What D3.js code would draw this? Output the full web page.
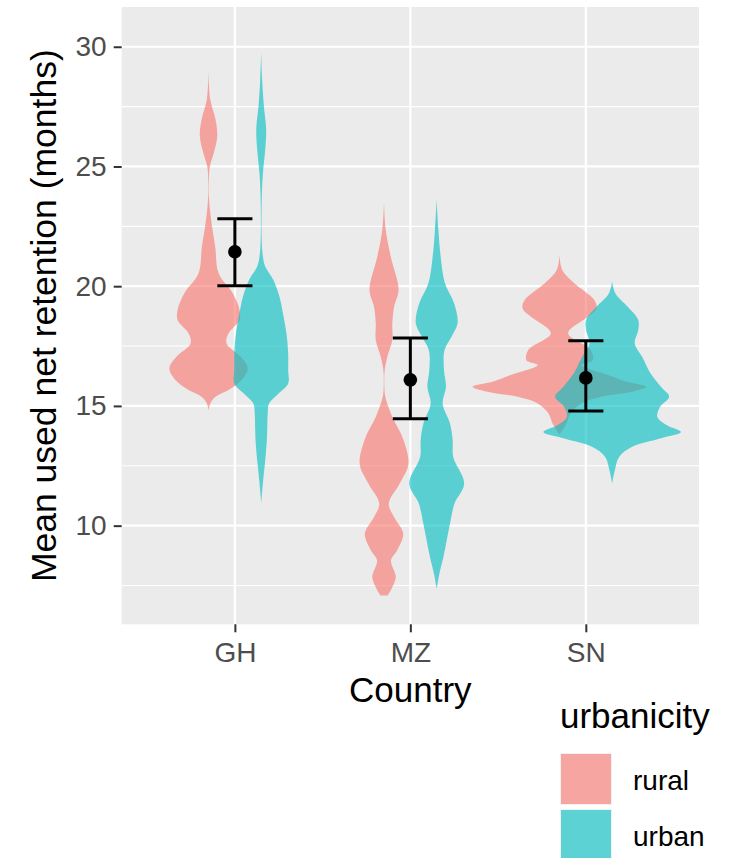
<!DOCTYPE html>
<html>
<head>
<meta charset="utf-8">
<script src="https://cdn.jsdelivr.net/npm/d3@7"></script>
<style>
  body { margin: 0; background: #fff; }
  svg { display: block; font-family: "Liberation Sans", Arial, Helvetica, sans-serif; }
</style>
</head>
<body>
<svg></svg>
<script>
// values
const countries = ['GH', 'MZ', 'SN'];
const groups = ['rural', 'urban'];
const groupColors = ['#F8766D', '#00BFC4'];
const yTicks = [10, 15, 20, 25, 30];
const yMinorTicks = [7.5, 12.5, 17.5, 22.5, 27.5];

// mean and interval per country
const meanRetention = [21.44, 16.09, 16.17];
const ciLower = [20.02, 14.46, 14.79];
const ciUpper = [22.82, 17.84, 17.72];

// violin outlines: [retention (months), relative density]
const ghRural = [
  [28.98, 0], [27.79, 0.02], [26.96, 0.08], [26.26, 0.1], [25.56, 0.06], [25.0, 0.015],
  [24.45, 0.004], [23.75, 0.004], [23.05, 0.02], [22.35, 0.046], [21.65, 0.077], [20.54, 0.115],
  [19.7, 0.28], [19.01, 0.356], [18.59, 0.356], [18.03, 0.23], [17.61, 0.207], [17.05, 0.37],
  [16.57, 0.45], [16.08, 0.38], [15.66, 0.23], [15.38, 0.08], [15.1, 0.02], [14.82, 0]
];
const ghUrban = [
  [29.75, 0], [28.63, 0.011], [27.51, 0.031], [26.54, 0.057], [25.7, 0.046], [24.73, 0.02],
  [23.89, 0.008], [23.05, 0.004], [22.22, 0.004], [21.38, 0.015], [20.82, 0.046], [20.26, 0.14],
  [19.56, 0.21], [18.87, 0.25], [18.03, 0.29], [17.19, 0.31], [16.5, 0.31], [15.94, 0.31],
  [15.52, 0.2], [15.1, 0.09], [14.68, 0.075], [14.12, 0.07], [13.57, 0.065], [12.87, 0.05],
  [12.17, 0.03], [11.48, 0.012], [10.92, 0]
];
const mzRural = [
  [23.47, 0], [22.35, 0.02], [21.24, 0.077], [19.84, 0.167], [19.14, 0.115], [18.45, 0.095],
  [17.75, 0.095], [17.05, 0.038], [16.5, 0.008], [15.94, 0.003], [15.38, 0.015], [14.54, 0.095],
  [13.71, 0.21], [12.59, 0.28], [11.76, 0.18], [10.92, 0.055], [10.36, 0.115], [9.66, 0.22],
  [8.96, 0.15], [8.55, 0.08], [7.86, 0.135], [7.4, 0.09], [7.08, 0.04]
];
const mzUrban = [
  [23.61, 0], [22.35, 0.02], [21.24, 0.046], [20.12, 0.095], [19.29, 0.2], [18.45, 0.24],
  [17.89, 0.17], [17.33, 0.09], [16.5, 0.084], [15.8, 0.107], [15.1, 0.069], [14.27, 0.153],
  [13.57, 0.184], [12.87, 0.19], [11.76, 0.316], [10.92, 0.205], [10.08, 0.153], [9.38, 0.115],
  [8.68, 0.077], [7.99, 0.031], [7.36, 0]
];
const snRural = [
  [21.31, 0], [20.68, 0.031], [20.12, 0.17], [19.42, 0.4], [19.08, 0.425], [18.73, 0.33],
  [18.03, 0.1], [17.33, 0.36], [16.91, 0.38], [16.71, 0.25], [16.29, 0.56], [16.01, 0.77],
  [15.8, 1.0], [15.59, 0.83], [15.38, 0.48], [15.1, 0.25], [14.68, 0.126], [14.27, 0.08],
  [13.91, 0.02], [13.8, 0]
];
const snUrban = [
  [20.19, 0], [19.7, 0.038], [19.14, 0.18], [18.59, 0.3], [18.17, 0.3], [17.61, 0.26],
  [17.05, 0.345], [16.36, 0.44], [15.8, 0.56], [15.38, 0.655], [14.96, 0.55], [14.54, 0.52],
  [14.19, 0.63], [13.91, 0.79], [13.64, 0.55], [13.29, 0.23], [12.87, 0.08], [12.31, 0.031],
  [11.76, 0]
];

const violins = [
  { country: 'GH', group: 'rural', profile: ghRural },
  { country: 'GH', group: 'urban', profile: ghUrban },
  { country: 'MZ', group: 'rural', profile: mzRural },
  { country: 'MZ', group: 'urban', profile: mzUrban },
  { country: 'SN', group: 'rural', profile: snRural },
  { country: 'SN', group: 'urban', profile: snUrban }
];

const width = 738, height = 858;
const margin = { top: 7, right: 39, bottom: 233.7, left: 121.7 };
const panelW = width - margin.left - margin.right;
const panelH = height - margin.top - margin.bottom;

const svg = d3.select('svg')
  .attr('width', width)
  .attr('height', height);

const g = svg.append('g')
  .attr('transform', `translate(${margin.left},${margin.top})`);

// scales
const x = d3.scalePoint().domain(countries).range([0, panelW]).padding(0.645);
const y = d3.scaleLinear().domain([5.88, 31.66]).range([panelH, 0]);
const color = d3.scaleOrdinal().domain(groups).range(groupColors);
const dodge = d3.scaleOrdinal().domain(groups).range([-0.15, 0.15]);
const halfWidth = d3.scaleLinear().domain([0, 1]).range([0, 0.496 * x.step()]);

// panel + grid
g.append('rect')
  .attr('width', panelW)
  .attr('height', panelH)
  .attr('fill', '#EBEBEB');

g.selectAll('.minor')
  .data(yMinorTicks)
  .join('line')
    .attr('class', 'minor')
    .attr('x1', 0).attr('x2', panelW)
    .attr('y1', d => y(d)).attr('y2', d => y(d))
    .attr('stroke', '#fff')
    .attr('stroke-width', 1.1);

g.selectAll('.major-y')
  .data(yTicks)
  .join('line')
    .attr('class', 'major-y')
    .attr('x1', 0).attr('x2', panelW)
    .attr('y1', d => y(d)).attr('y2', d => y(d))
    .attr('stroke', '#fff')
    .attr('stroke-width', 2.2);

g.selectAll('.major-x')
  .data(countries)
  .join('line')
    .attr('class', 'major-x')
    .attr('x1', d => x(d)).attr('x2', d => x(d))
    .attr('y1', 0).attr('y2', panelH)
    .attr('stroke', '#fff')
    .attr('stroke-width', 2.2);

// violins
violins.forEach((v) => {
  const cx = x(v.country) + dodge(v.group) * x.step();
  const area = d3.area()
    .curve(d3.curveCatmullRom.alpha(0.5))
    .y(d => y(d[0]))
    .x0(d => cx - halfWidth(d[1]))
    .x1(d => cx + halfWidth(d[1]));
  g.append('path')
    .attr('d', area(v.profile))
    .attr('fill', color(v.group))
    .attr('fill-opacity', 0.62);
});

// mean + interval
const capHalf = 0.1 * x.step();
countries.forEach((c, i) => {
  const cx = x(c);
  g.append('line')
    .attr('x1', cx).attr('x2', cx)
    .attr('y1', y(ciLower[i])).attr('y2', y(ciUpper[i]))
    .attr('stroke', '#000').attr('stroke-width', 3);
  [ciLower[i], ciUpper[i]].forEach((val) => {
    g.append('line')
      .attr('x1', cx - capHalf).attr('x2', cx + capHalf)
      .attr('y1', y(val)).attr('y2', y(val))
      .attr('stroke', '#000').attr('stroke-width', 3);
  });
  g.append('circle')
    .attr('cx', cx)
    .attr('cy', y(meanRetention[i]))
    .attr('r', 6.8)
    .attr('fill', '#000');
});

// axes
const yAxis = g.append('g')
  .call(d3.axisLeft(y).tickValues(yTicks).tickSize(8).tickPadding(7));
const xAxis = g.append('g')
  .attr('transform', `translate(0,${panelH})`)
  .call(d3.axisBottom(x).tickSize(8).tickPadding(10));

[yAxis, xAxis].forEach((ax) => {
  ax.select('.domain').remove();
  ax.selectAll('.tick line').attr('stroke', '#333').attr('stroke-width', 2);
  ax.selectAll('.tick text')
    .attr('fill', '#4D4D4D')
    .style('font-size', '28px')
    .style('font-family', '"Liberation Sans", Arial, sans-serif');
});

// titles
svg.append('text')
  .attr('transform', `translate(56,${margin.top + panelH / 2}) rotate(-90)`)
  .attr('text-anchor', 'middle')
  .style('font-size', '35.5px')
  .attr('fill', '#000')
  .text('Mean used net retention (months)');

svg.append('text')
  .attr('x', margin.left + panelW / 2)
  .attr('y', 702)
  .attr('text-anchor', 'middle')
  .style('font-size', '35px')
  .attr('fill', '#000')
  .text('Country');

// legend
const legend = svg.append('g').attr('transform', 'translate(560,0)');
legend.append('text')
  .attr('x', 0)
  .attr('y', 728)
  .style('font-size', '35px')
  .attr('fill', '#000')
  .text('urbanicity');

groups.forEach((grp, i) => {
  const top = 753 + i * 56;
  legend.append('rect')
    .attr('x', 0).attr('y', top)
    .attr('width', 52).attr('height', 52)
    .attr('fill', '#F2F2F2');
  legend.append('rect')
    .attr('x', 1).attr('y', top + 1)
    .attr('width', 50).attr('height', 50)
    .attr('fill', color(grp))
    .attr('fill-opacity', 0.62);
  legend.append('text')
    .attr('x', 73)
    .attr('y', top + 37)
    .style('font-size', '28px')
    .attr('fill', '#000')
    .text(grp);
});
</script>
</body>
</html>
